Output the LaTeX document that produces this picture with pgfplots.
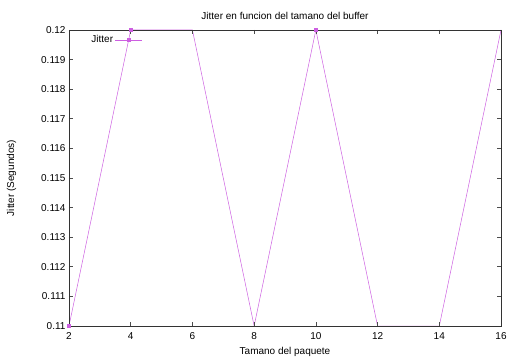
\documentclass[border=0pt]{standalone}
\usepackage{fontspec}
\setmainfont{Liberation Sans}
\usepackage{pgfplots}
\pgfplotsset{compat=1.18}
\definecolor{gp}{RGB}{205,95,225}
\begin{document}
\fontsize{10bp}{12bp}\selectfont
\begin{tikzpicture}
\begin{axis}[
  scale only axis,
  axis on top,
  width=432bp, height=296bp,
  xmin=2, xmax=16, ymin=0.11, ymax=0.12,
  xtick={2,4,...,16},
  ytick={0.11,0.111,0.112,0.113,0.114,0.115,0.116,0.117,0.118,0.119,0.12},
  yticklabels={0.11,0.111,0.112,0.113,0.114,0.115,0.116,0.117,0.118,0.119,0.12},
  /pgf/number format/assume math mode=true,
  tick align=inside,
  major tick length=4bp,
  tick style={black!70, line width=0.6bp},
  axis line style={black!80, line width=0.9bp},
  tick label style={font=\fontsize{10bp}{12bp}\selectfont},
  xticklabel style={yshift=-3bp},
  label style={font=\fontsize{10bp}{12bp}\selectfont},
  title style={font=\fontsize{10bp}{12bp}\selectfont, yshift=1bp},
  title={Jitter en funcion del tamano del buffer},
  xlabel={Tamano del paquete},
  ylabel={Jitter (Segundos)},
  xlabel style={yshift=-1bp},
  ylabel style={yshift=18bp},
  legend plot pos=right,
  legend style={draw=none, fill=none, at={(0.04,0.995)}, anchor=north west,
    font=\fontsize{10bp}{12bp}\selectfont},
  legend image code/.code={
    \draw[gp, line width=0.5bp] (0cm,0cm) -- (0.95cm,0cm);
    \fill[gp] (0.475cm,0cm) +(-1.3bp,-1.3bp) rectangle +(1.3bp,1.3bp);
  },
]
\addplot[color=gp, line width=0.5bp, mark=square*, mark size=1.3bp, mark options={solid, fill=gp}, mark indices={1,2,5}]
  coordinates {(2,0.11) (4,0.12) (6,0.12) (8,0.11) (10,0.12) (12,0.11) (14,0.11) (16,0.12)};
\addlegendentry{Jitter}
\coordinate (ll) at (rel axis cs:0,0);
\coordinate (ur) at (rel axis cs:1,1);
\end{axis}
\pgfresetboundingbox
\path[use as bounding box] ([shift={(-69bp,-32bp)}]ll) rectangle ([shift={(7bp,30bp)}]ur);
\end{tikzpicture}
\end{document}
